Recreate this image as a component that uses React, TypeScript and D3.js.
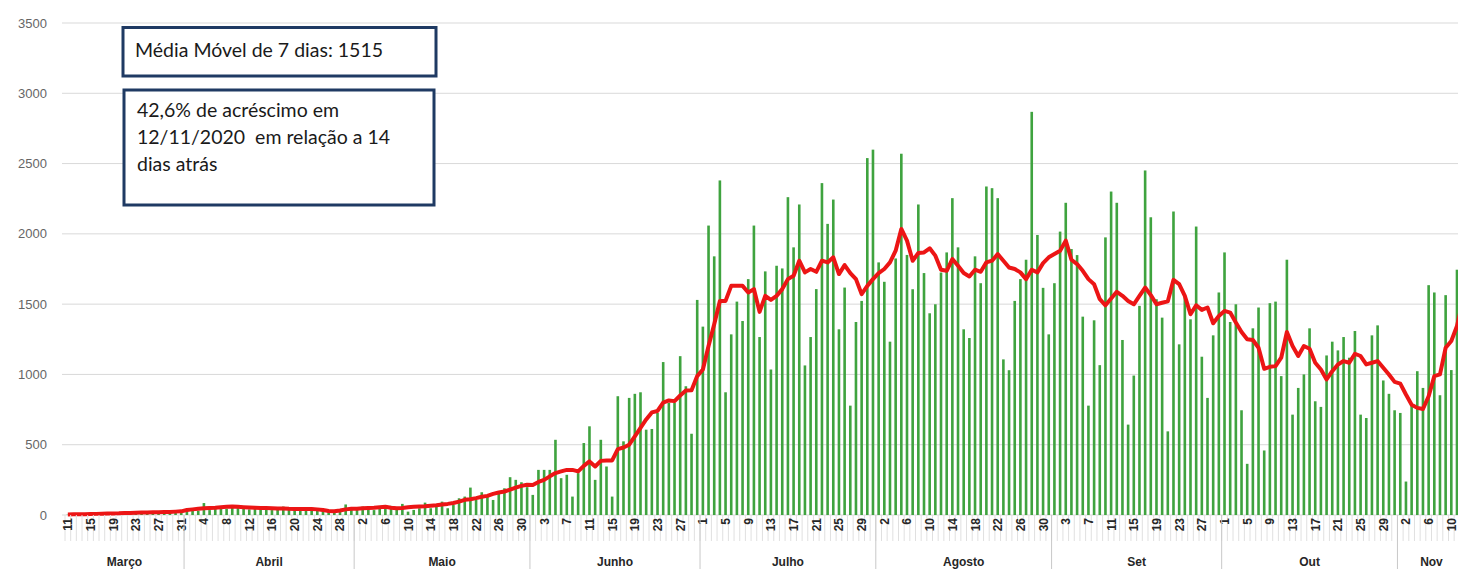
import React, { useEffect, useRef } from "react";
import * as d3 from "d3";

// dias de 11/03/2020 a 12/11/2020
const firstDay = new Date(2020, 2, 11);
const lastDay = new Date(2020, 10, 13);
const monthNames = ["Março", "Abril", "Maio", "Junho", "Julho", "Agosto", "Set", "Out", "Nov"];
const yTicks = [0, 500, 1000, 1500, 2000, 2500, 3000, 3500];

// casos diários
const casosMar = [2, 1, 3, 2, 5, 4, 6, 8, 7, 10, 12, 9, 15, 18, 14, 20, 16, 22, 25, 18, 30];
const casosAbr = [40, 45, 30, 85, 35, 50, 55, 45, 60, 70, 50, 40, 45, 55, 50, 35, 50, 60, 40, 45, 40, 35, 40, 45, 35, 25, 20, 30, 75, 55];
const casosMai = [45, 60, 40, 35, 55, 50, 65, 45, 79, 24, 36, 48, 88, 48, 64, 95, 48, 71, 119, 131, 195, 107, 162, 131, 107, 167, 190, 269, 250, 233, 198];
const casosJun = [143, 321, 321, 321, 535, 262, 286, 131, 298, 512, 631, 250, 535, 345, 131, 845, 524, 833, 862, 873, 607, 612, 726, 1088, 797, 797, 1130, 916, 578, 1530];
const casosJul = [1340, 2059, 1840, 2380, 873, 1285, 1518, 1380, 1678, 2059, 1266, 1733, 1035, 1773, 1754, 2261, 1904, 2209, 1064, 1266, 1607, 2361, 2071, 2244, 1321, 1618, 778, 1373, 1523, 2539, 2599];
const casosAgo = [1797, 1659, 1233, 1825, 2570, 1850, 1606, 2209, 1721, 1435, 1499, 1725, 1868, 2254, 1904, 1321, 1259, 1840, 1649, 2337, 2325, 2254, 1107, 1030, 1523, 1678, 1816, 2868, 1992, 1616, 1285];
const casosSet = [1649, 2016, 2221, 1892, 1849, 1411, 778, 1385, 1066, 1975, 2301, 2221, 1245, 643, 992, 1488, 2451, 2118, 1535, 1404, 595, 2159, 1214, 1559, 1392, 2052, 1126, 833, 1278, 1583];
const casosOut = [1868, 1373, 1499, 745, 364, 1328, 1476, 459, 1507, 1518, 988, 1816, 714, 904, 1000, 1328, 809, 769, 1135, 1233, 1171, 1266, 1119, 1309, 714, 690, 1278, 1349, 957, 862, 745];
const casosNov = [726, 238, 778, 1023, 904, 1635, 1583, 852, 1564, 1031, 1745, 1700];

// média móvel de 7 dias
const mediaMar = [4, 5, 5, 6, 7, 8, 9, 10, 11, 12, 14, 15, 16, 17, 18, 19, 20, 21, 22, 24, 26];
const mediaAbr = [36, 40, 44, 48, 50, 52, 55, 58, 60, 58, 56, 54, 52, 50, 49, 48, 47, 46, 44, 43, 43, 42, 42, 40, 35, 28, 26, 32, 40, 45];
const mediaMai = [45, 48, 50, 52, 55, 58, 52, 48, 50, 55, 58, 60, 62, 66, 70, 75, 79, 85, 95, 108, 112, 120, 130, 136, 150, 160, 167, 180, 195, 207, 215];
const mediaJun = [214, 235, 250, 275, 298, 310, 321, 321, 310, 350, 381, 345, 385, 388, 388, 469, 480, 500, 560, 620, 680, 730, 740, 800, 815, 810, 850, 885, 888, 988];
const mediaJul = [1035, 1202, 1357, 1523, 1523, 1630, 1630, 1630, 1583, 1607, 1445, 1559, 1530, 1559, 1607, 1678, 1702, 1809, 1726, 1750, 1730, 1809, 1797, 1833, 1714, 1778, 1721, 1678, 1571, 1630, 1678];
const mediaAgo = [1720, 1750, 1797, 1880, 2035, 1952, 1809, 1864, 1868, 1897, 1845, 1745, 1737, 1821, 1773, 1721, 1697, 1745, 1730, 1797, 1809, 1856, 1809, 1761, 1750, 1726, 1678, 1745, 1726, 1792, 1833];
const mediaSet = [1856, 1880, 1952, 1816, 1785, 1737, 1678, 1642, 1535, 1492, 1540, 1588, 1559, 1523, 1499, 1559, 1618, 1564, 1499, 1510, 1520, 1673, 1642, 1559, 1428, 1492, 1459, 1476, 1364, 1416];
const mediaOut = [1452, 1440, 1369, 1302, 1250, 1245, 1190, 1040, 1054, 1059, 1119, 1302, 1202, 1131, 1202, 1183, 1083, 1035, 964, 1023, 1071, 1095, 1083, 1147, 1131, 1071, 1083, 1095, 1047, 1000, 947];
const mediaNov = [935, 857, 785, 762, 754, 845, 988, 1000, 1190, 1238, 1345, 1515];

const boxTitle = "Média Móvel de 7 dias: 1515";
const boxLines = ["42,6% de acréscimo em", "12/11/2020  em relação a 14", "dias atrás"];

const App = () => {
  const ref = useRef<SVGSVGElement>(null);

  useEffect(() => {
    const svg = d3.select(ref.current);
    svg.selectAll("*").remove();

    const days = d3.timeDay.range(firstDay, lastDay);
    const casos = [...casosMar, ...casosAbr, ...casosMai, ...casosJun, ...casosJul, ...casosAgo, ...casosSet, ...casosOut, ...casosNov];
    const media = [...mediaMar, ...mediaAbr, ...mediaMai, ...mediaJun, ...mediaJul, ...mediaAgo, ...mediaSet, ...mediaOut, ...mediaNov];

    const base = 515;
    const x = d3
      .scaleBand<number>()
      .domain(d3.range(days.length))
      .range([65, 65 + days.length * 5.67])
      .paddingInner(0.54)
      .paddingOuter(0.27);
    const bw = x.bandwidth();
    const step = x.step();
    const left = (i: number) => (x(i) as number) + bw / 2 - step / 2;
    const mid = (i: number) => (x(i) as number) + bw / 2;

    const y = d3.scaleLinear().domain([0, 3500]).range([base, 23]);

    // grade
    svg
      .append("g")
      .selectAll("line")
      .data(yTicks)
      .join("line")
      .attr("x1", 62)
      .attr("x2", 1458)
      .attr("y1", (d) => y(d))
      .attr("y2", (d) => y(d))
      .attr("stroke", "#d9d9d9")
      .attr("stroke-width", 1);

    svg
      .append("g")
      .selectAll("text")
      .data(yTicks)
      .join("text")
      .attr("x", 47)
      .attr("y", (d) => y(d) + 4.5)
      .attr("text-anchor", "end")
      .attr("font-family", "Liberation Sans, Arial, sans-serif")
      .attr("font-size", 13)
      .attr("fill", "#666")
      .text((d) => d);

    // barras
    svg
      .append("g")
      .selectAll("rect")
      .data(casos)
      .join("rect")
      .attr("x", (d, i) => x(i) as number)
      .attr("y", (d) => y(d))
      .attr("width", bw)
      .attr("height", (d) => base - y(d))
      .attr("fill", "#3fa33f");

    // média móvel
    const mm = d3
      .line<number>()
      .x((d, i) => mid(i))
      .y((d) => y(d));
    svg
      .append("path")
      .datum(media)
      .attr("d", mm)
      .attr("fill", "none")
      .attr("stroke", "#ec1515")
      .attr("stroke-width", 4)
      .attr("stroke-linejoin", "round");

    // eixo x: marcas diárias
    svg
      .append("g")
      .selectAll("line")
      .data(days)
      .join("line")
      .attr("x1", (d, i) => left(i))
      .attr("x2", (d, i) => left(i))
      .attr("y1", base)
      .attr("y2", 541)
      .attr("stroke", "#e0e0e0")
      .attr("stroke-width", 1);

    svg
      .append("g")
      .selectAll("text")
      .data(days.filter((d, i) => i % 4 === 0))
      .join("text")
      .attr("transform", (d) => `translate(${mid(days.indexOf(d)) + 4.5},518) rotate(-90)`)
      .attr("text-anchor", "end")
      .attr("font-family", "Liberation Sans, Arial, sans-serif")
      .attr("font-weight", "bold")
      .attr("font-size", 12)
      .attr("fill", "#262626")
      .text((d) => d.getDate());

    // meses
    const starts = days.map((d, i) => i).filter((i) => i === 0 || days[i].getDate() === 1);
    svg
      .append("g")
      .selectAll("line")
      .data(starts.slice(1))
      .join("line")
      .attr("x1", (i) => left(i))
      .attr("x2", (i) => left(i))
      .attr("y1", base)
      .attr("y2", 569)
      .attr("stroke", "#c8c8c8")
      .attr("stroke-width", 1);

    svg
      .append("g")
      .selectAll("text")
      .data(starts)
      .join("text")
      .attr("x", (s, k) => {
        const end = k + 1 < starts.length ? left(starts[k + 1]) : left(days.length - 1) + step;
        return (left(s) + end) / 2;
      })
      .attr("y", 566)
      .attr("text-anchor", "middle")
      .attr("font-family", "Liberation Sans, Arial, sans-serif")
      .attr("font-weight", "bold")
      .attr("font-size", 12)
      .attr("fill", "#262626")
      .text((s, k) => monthNames[k]);

    // caixas de texto
    const boxes = svg.append("g").attr("font-family", "Lato, sans-serif").attr("fill", "#1a1a1a");
    boxes
      .append("rect")
      .attr("x", 123)
      .attr("y", 27.5)
      .attr("width", 313)
      .attr("height", 48.5)
      .attr("fill", "#fff")
      .attr("stroke", "#1f3a63")
      .attr("stroke-width", 3);
    boxes
      .append("text")
      .attr("x", 135)
      .attr("y", 57)
      .attr("font-size", 19.5)
      .text(boxTitle);

    boxes
      .append("rect")
      .attr("x", 124)
      .attr("y", 90)
      .attr("width", 310)
      .attr("height", 115)
      .attr("fill", "#fff")
      .attr("stroke", "#1f3a63")
      .attr("stroke-width", 3);
    boxes
      .append("g")
      .selectAll("text")
      .data(boxLines)
      .join("text")
      .attr("x", 137)
      .attr("y", (d, i) => 117 + i * 27)
      .attr("font-size", 19.5)
      .style("white-space", "pre")
      .text((d) => d);
  }, []);

  return (
    <svg
      ref={ref}
      width={1458}
      height={569}
      style={{ position: "absolute", left: 0, top: 0, background: "#fff" }}
    />
  );
};

export default App;
